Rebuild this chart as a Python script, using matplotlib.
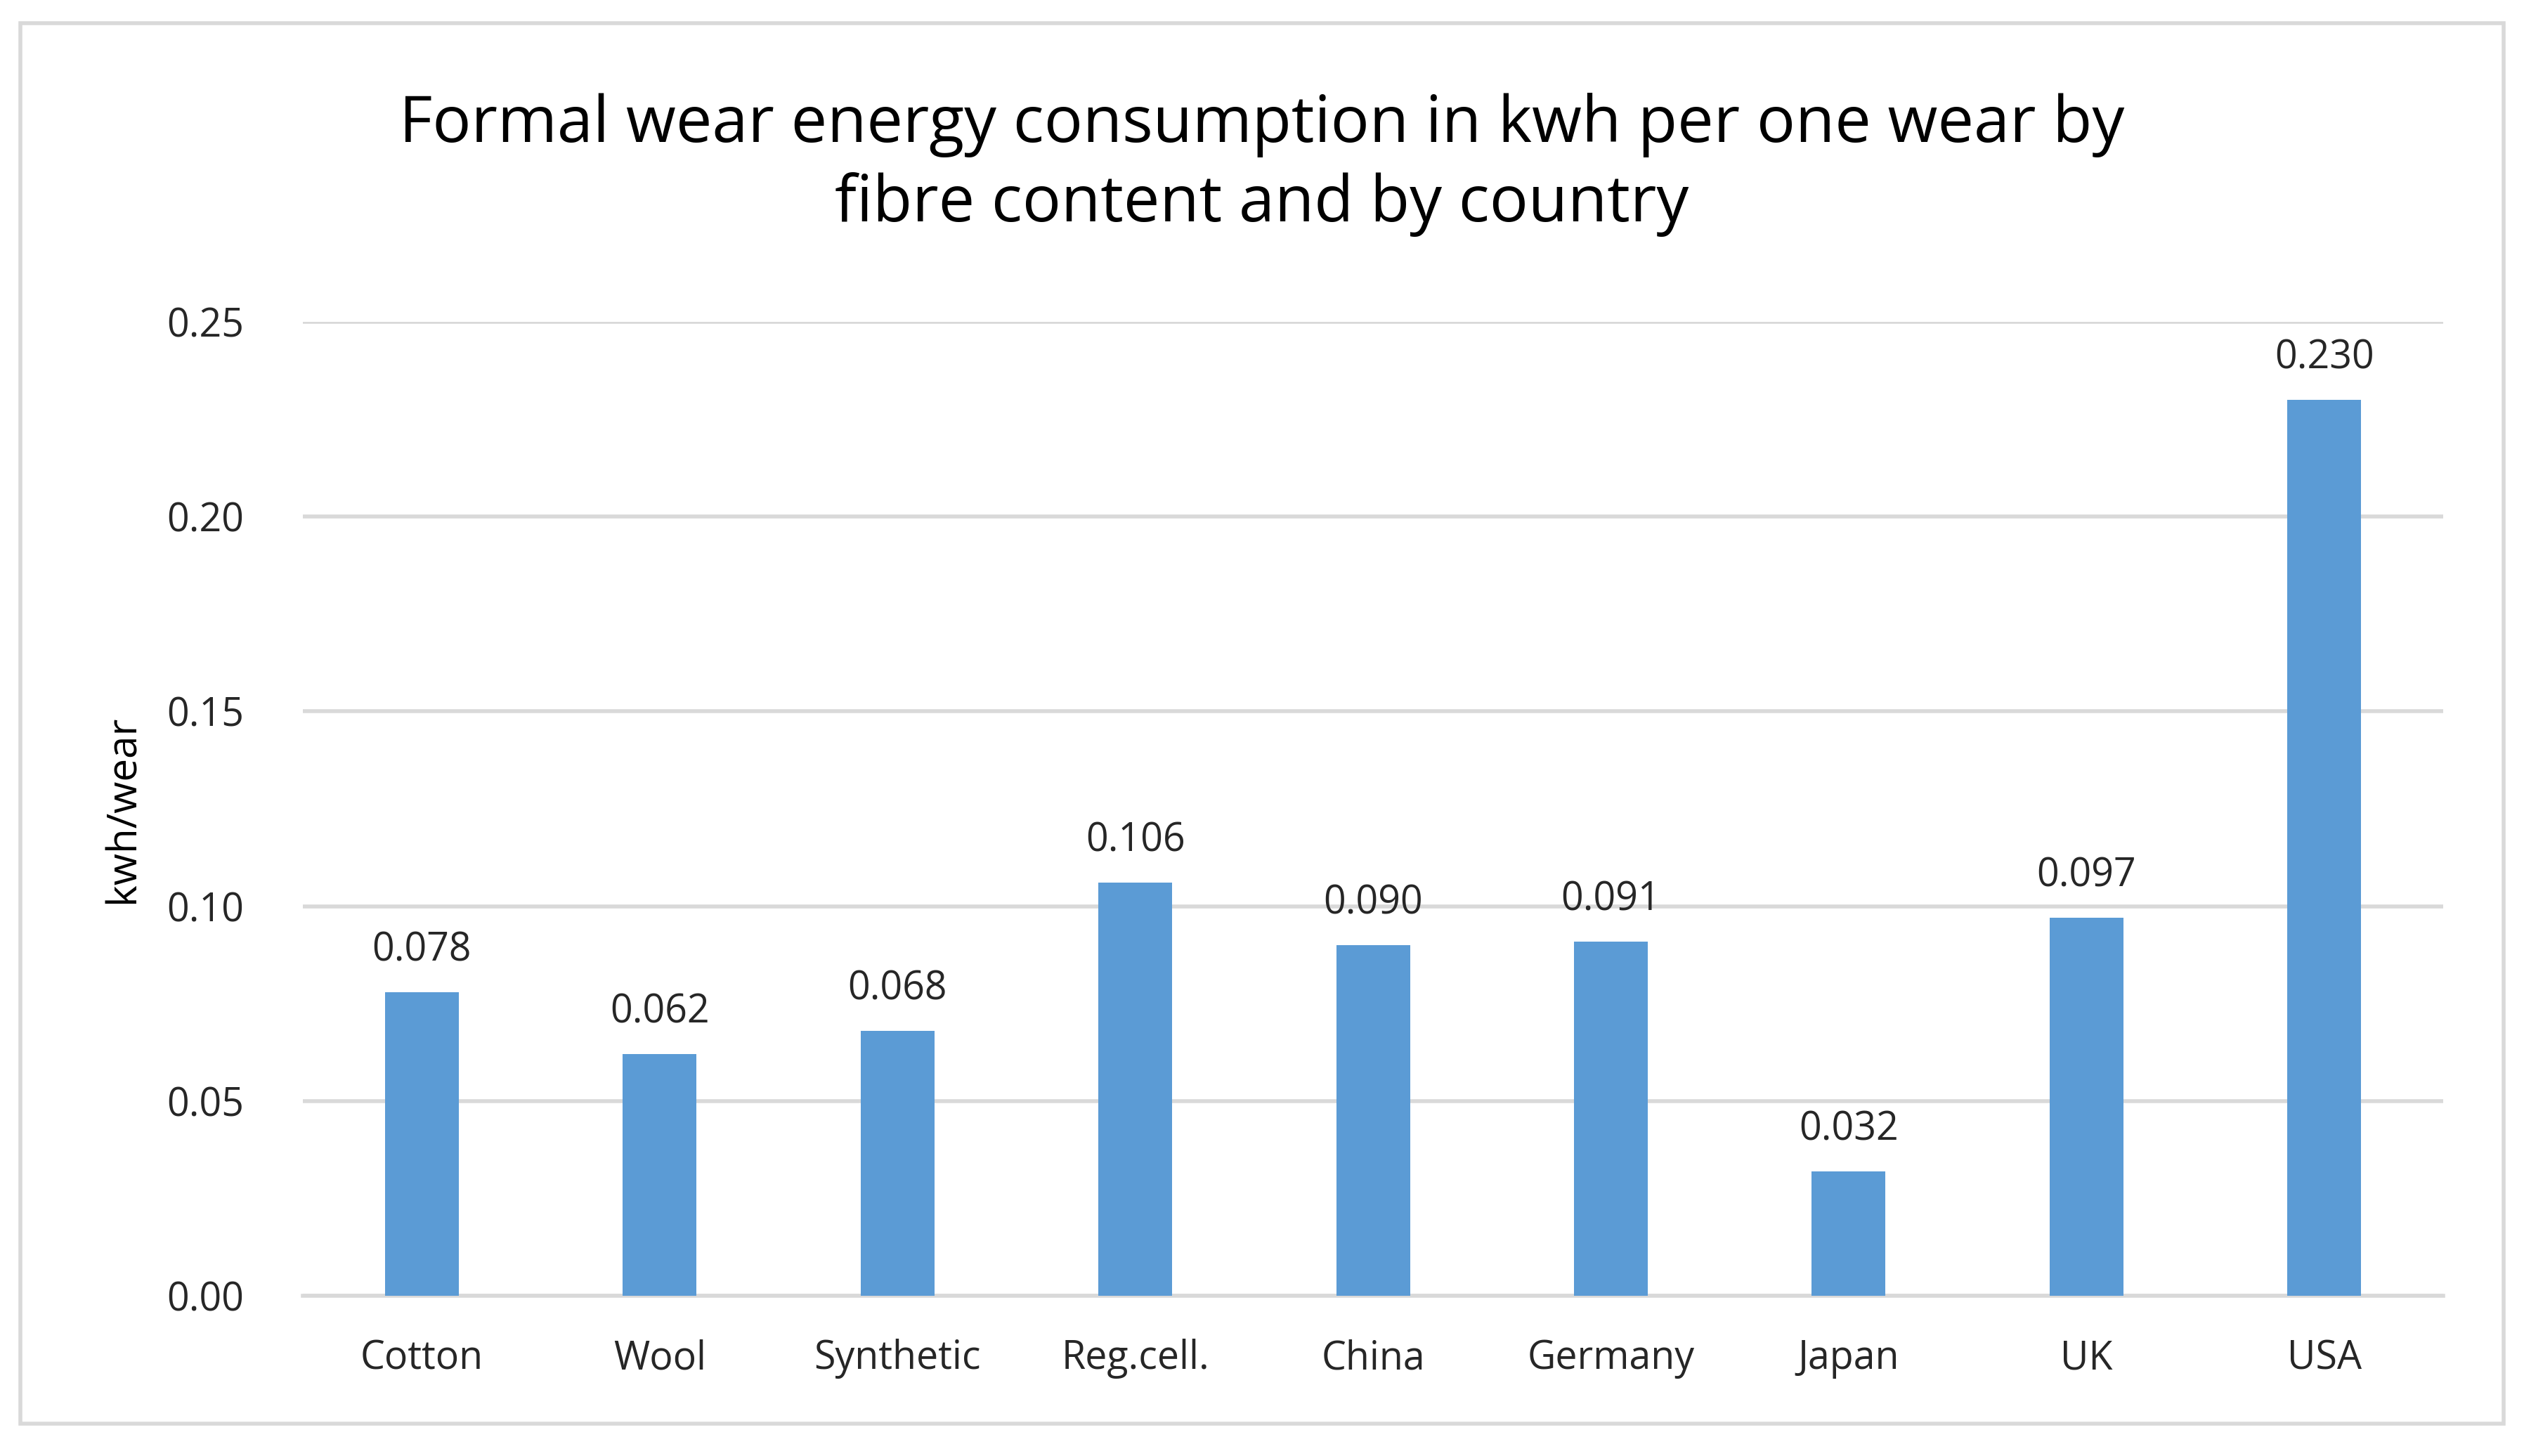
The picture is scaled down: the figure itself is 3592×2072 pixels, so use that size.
import matplotlib
matplotlib.use("Agg")
import matplotlib.pyplot as plt
from matplotlib.patches import Rectangle

categories = ["Cotton", "Wool", "Synthetic", "Reg.cell.", "China", "Germany", "Japan", "UK", "USA"]
values = [0.078, 0.062, 0.068, 0.106, 0.090, 0.091, 0.032, 0.097, 0.230]
yticks = [0.00, 0.05, 0.10, 0.15, 0.20, 0.25]

plt.rcParams["font.family"] = "Open Sans"
fig = plt.figure(figsize=(17.96, 10.36), dpi=200)
fig.patches.append(Rectangle((0.008, 0.022), 0.984, 0.962, transform=fig.transFigure,
                             fill=False, edgecolor="#D9D9D9", linewidth=2))
ax = fig.add_axes([0.12, 0.11, 0.848, 0.669])
x = range(len(categories))
ax.bar(x, values, width=0.31, color="#5B9BD5", zorder=3)
for i, v in zip(x, values):
    ax.text(i, v + 0.0055, f"{v:.3f}", ha="center", va="bottom", fontsize=20, color="#262626")
ax.set_xlim(-0.5, len(categories) - 0.5)
ax.set_ylim(0, 0.25)
ax.set_yticks(yticks)
ax.set_yticklabels([f"{t:.2f}" for t in yticks])
ax.set_xticks(list(x))
ax.set_xticklabels(categories)
ax.tick_params(axis="both", length=0, labelsize=20, colors="#262626")
ax.tick_params(axis="x", pad=22)
ax.tick_params(axis="y", pad=30)
ax.grid(axis="y", color="#D9D9D9", linewidth=2, zorder=0)
for s in ["top", "right", "left"]:
    ax.spines[s].set_visible(False)
ax.spines["bottom"].set_color("#D9D9D9")
ax.spines["bottom"].set_linewidth(2)
ax.set_ylabel("kwh/wear", fontsize=21, color="#000000", labelpad=12)
fig.text(0.5, 0.887, "Formal wear energy consumption in kwh per one wear by\nfibre content and by country",
         ha="center", va="center", fontsize=33, color="#000000", linespacing=1.3)
fig.savefig("out.png", dpi=200)
